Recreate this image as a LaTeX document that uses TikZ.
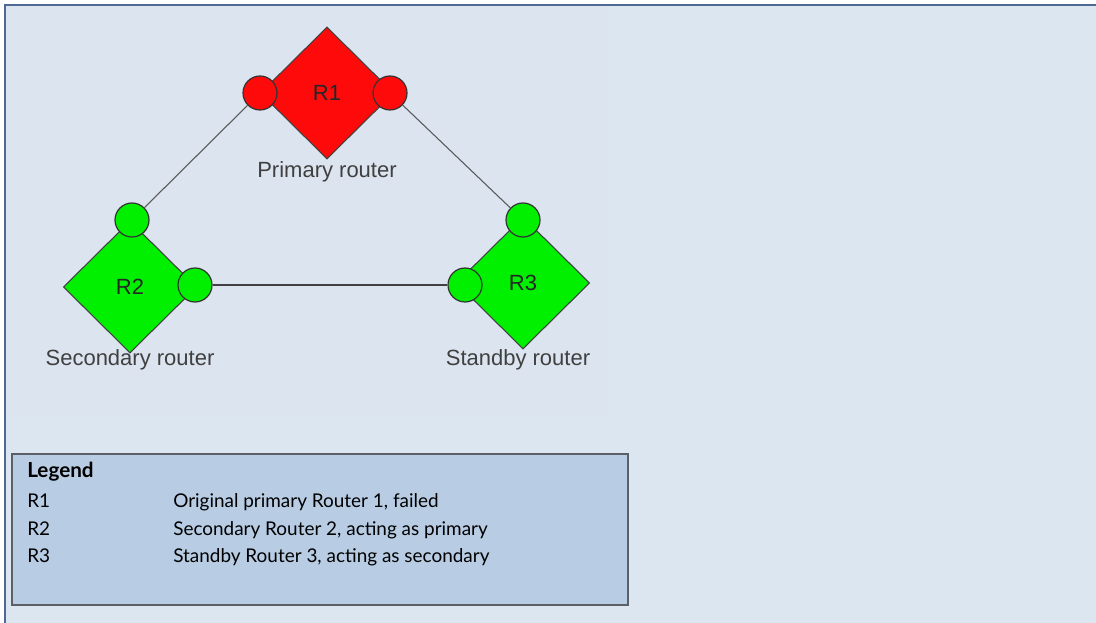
\documentclass[tikz,border=0pt]{standalone}
\usepackage{fontspec}
\setmainfont{Liberation Sans}
\newfontfamily\legendfont{Lato}
\usetikzlibrary{shapes.geometric}
\definecolor{pagebg}{HTML}{DCE6F1}
\definecolor{picbg}{HTML}{DBE4EF}
\definecolor{framec}{HTML}{4F6A92}
\definecolor{legbg}{HTML}{B8CCE4}
\definecolor{legframe}{HTML}{5B5F66}
\definecolor{routred}{HTML}{FF0A0A}
\definecolor{routgreen}{HTML}{00F000}
\tikzset{
  router/.style={diamond,draw=black!75,line width=.8pt,minimum width=100pt,minimum height=99pt,inner sep=0pt,font=\fontsize{16.5}{16.5}\selectfont,text=black!85},
  port/.style={circle,draw=black!80,line width=.9pt,minimum size=25.5pt,inner sep=0pt},
  rlabel/.style={font=\fontsize{16.5}{17}\selectfont,text=black!75},
  link/.style={draw=black!65,line width=.8pt},
  legtext/.style={anchor=base west,inner sep=0pt,font=\legendfont\fontsize{14.2}{15}\selectfont}
}
\begin{document}
\begin{tikzpicture}[x=.75pt,y=-.75pt]
  \useasboundingbox (0,0) rectangle (1096,623);
  \fill[white] (0,0) rectangle (1096,623); \fill[pagebg] (5,5) rectangle (1096,623);
  \fill[picbg] (6,6) rectangle (608,417);
  \draw[framec,line width=1.2pt] (5,623)--(5,5)--(1096,5);
  \node[router,fill=routred] (r1) at (327,93) {R1};
  \node[router,fill=routgreen] (r2) at (130,287) {R2};
  \node[router,fill=routgreen] (r3) at (523,283) {R3};
  \node[port,fill=routred] (r1w) at (260,93) {}; \node[port,fill=routred] (r1e) at (390,93) {};
  \node[port,fill=routgreen] (r2n) at (132,220) {}; \node[port,fill=routgreen] (r2e) at (195,285) {};
  \node[port,fill=routgreen] (r3n) at (523,220) {}; \node[port,fill=routgreen] (r3w) at (465,285) {};
  \draw[link] (r1w)--(r2n); \draw[link] (r1e)--(r3n); \draw[link,draw=black!75,line width=1.1pt] (r2e)--(r3w);
  \node[rlabel] (l1) at (327,172) {Primary router}; \node[rlabel] (l2) at (130,360) {Secondary router};
  \node[rlabel] (l3) at (518,360) {Standby router};
  \node[draw=legframe,fill=legbg,line width=1.5pt,anchor=north west,minimum width=462pt,minimum height=113pt] (legend) at (11,453) {};
  \node[legtext,font=\legendfont\bfseries\fontsize{15.5}{16}\selectfont] (legt) at (27,477) {Legend};
  \node[legtext] (k1) at (27,507) {R1}; \node[legtext] (v1) at (173,507) {Original primary Router 1, failed};
  \node[legtext] (k2) at (27,535) {R2}; \node[legtext] (v2) at (173,535) {Secondary Router 2, acting as primary};
  \node[legtext] (k3) at (27,562) {R3}; \node[legtext] (v3) at (173,562) {Standby Router 3, acting as secondary};
\end{tikzpicture}
\end{document}
